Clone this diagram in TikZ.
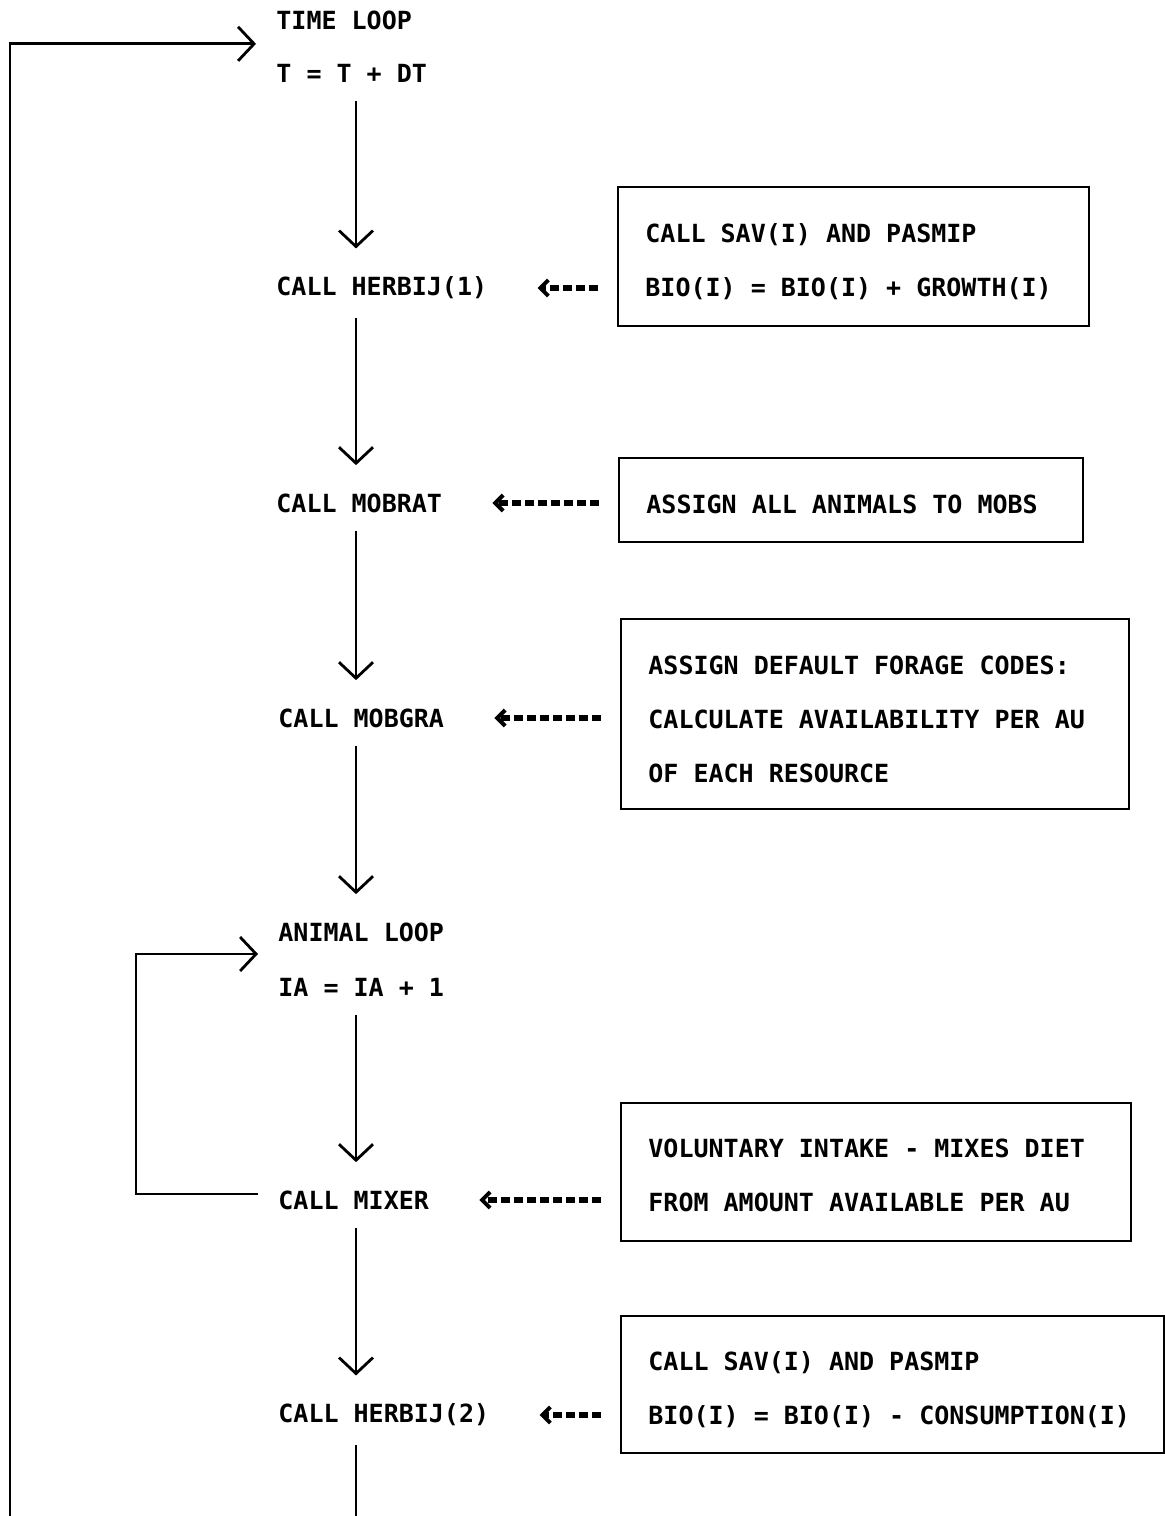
\documentclass[tikz,border=0pt]{standalone}
\usepackage{fontspec}
\setmainfont{DejaVu Sans Mono}
\usetikzlibrary{arrows.meta,calc}
\begin{document}
\begin{tikzpicture}[x=0.5pt,y=-0.5pt,
  every node/.style={font=\bfseries\fontsize{12.5}{27}\selectfont,
    inner sep=0pt,anchor=west,align=left},
  flow/.style={line width=1.4pt,
    -{Straight Barb[length=8pt,width=17pt,line width=1.4pt]}},
  feed/.style={line width=3.2pt,dash pattern=on 4.5pt off 2pt,
    shorten <=9.5pt,shorten >=25pt,
    -{Straight Barb[length=4pt,width=8pt,line width=2pt]}},
  box/.style={draw,line width=1.2pt,anchor=north west}]
\useasboundingbox (0,0) rectangle (1165,1516);
% main column
\node (tl)  at (276,20)   {TIME LOOP};
\node (tdt) at (276,73)   {T = T + DT};
\node (hb1) at (276,288)  {CALL HERBIJ(1)};
\node (mr)  at (276,503)  {CALL MOBRAT};
\node (mg)  at (278,718)  {CALL MOBGRA};
\node (al)  at (278,932)  {ANIMAL LOOP};
\node (ia)  at (278,987)  {IA = IA + 1};
\node (mx)  at (278,1200) {CALL MIXER};
\node (hb2) at (278,1415) {CALL HERBIJ(2)};
% boxes on the right
\node[box,minimum width=235.5pt,minimum height=69.5pt] (sav1) at (617,186) {};
\node at ([xshift=14pt,yshift=-2.5pt]sav1.west)
  {CALL SAV(I) AND PASMIP\\BIO(I) = BIO(I) + GROWTH(I)};
\node[box,minimum width=232pt,minimum height=42pt] (mobs) at (618,457) {};
\node at ([xshift=14pt,yshift=-2pt]mobs.west) {ASSIGN ALL ANIMALS TO MOBS};
\node[box,minimum width=254pt,minimum height=95pt] (forg) at (620,618) {};
\node at ([xshift=14pt,yshift=-2.5pt]forg.west)
  {ASSIGN DEFAULT FORAGE CODES:\\CALCULATE AVAILABILITY PER AU\\OF EACH RESOURCE};
\node[box,minimum width=255pt,minimum height=69pt] (mix) at (620,1102) {};
\node at ([xshift=14pt,yshift=-1.5pt]mix.west)
  {VOLUNTARY INTAKE - MIXES DIET\\FROM AMOUNT AVAILABLE PER AU};
\node[box,minimum width=271.5pt,minimum height=68.5pt] (sav2) at (620,1315) {};
\node at ([xshift=14pt,yshift=-2.5pt]sav2.west)
  {CALL SAV(I) AND PASMIP\\BIO(I) = BIO(I) - CONSUMPTION(I)};
% spine and loop points
\coordinate (sp) at (356,0);
\coordinate (tbot) at (10,1516);
\coordinate (sbot) at (356,1516);
\coordinate (aleft) at (136,0);
\coordinate (tin) at ($(tl.west)!.45!(tdt.west)$);
\coordinate (ain) at ($(al.west)!.4!(ia.west)$);
% downward flow
\draw[flow,shorten <=9pt,shorten >=14pt] (sp |- tdt.south) -- (sp |- hb1.north);
\draw[flow,shorten <=9pt,shorten >=14pt] (sp |- hb1.south) -- (sp |- mr.north);
\draw[flow,shorten <=9pt,shorten >=14pt] (sp |- mr.south) -- (sp |- mg.north);
\draw[flow,shorten <=9pt,shorten >=14pt] (sp |- mg.south) -- (sp |- al.north);
\draw[flow,shorten <=9pt,shorten >=14pt] (sp |- ia.south) -- (sp |- mx.north);
\draw[flow,shorten <=9pt,shorten >=14pt] (sp |- mx.south) -- (sp |- hb2.north);
\draw[line width=1.4pt,shorten <=9pt] (sp |- hb2.south) -- (sbot);
% loops
\draw[flow,shorten >=10pt] (tbot) |- (tin);
\draw[flow,shorten <=10pt,shorten >=10pt] ([yshift=3pt]mx.west) -| (aleft |- ain) -- (ain);
% calls from the boxes
\draw[feed] (sav1.west |- hb1.east) -- (hb1.east);
\draw[feed] (mobs.west |- mr.east) -- (mr.east);
\draw[feed] (forg.west |- mg.east) -- (mg.east);
\draw[feed] (mix.west |- mx.east) -- (mx.east);
\draw[feed] (sav2.west |- hb2.east) -- (hb2.east);
\end{tikzpicture}
\end{document}
